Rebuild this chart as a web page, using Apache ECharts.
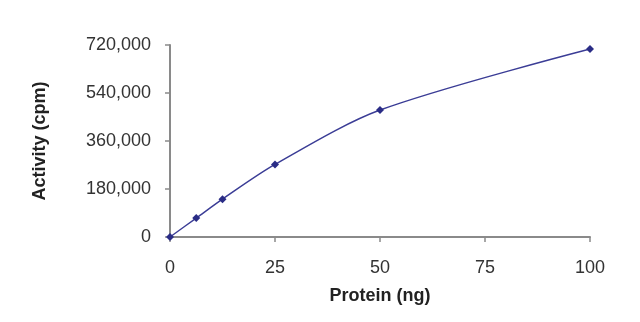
<!DOCTYPE html>
<html>
<head>
<meta charset="utf-8">
<script src="https://cdn.jsdelivr.net/npm/echarts@6/dist/echarts.min.js"></script>
<style>
  html, body { margin: 0; padding: 0; background: #fff; }
  #chart { width: 640px; height: 322px; }
</style>
</head>
<body>
<div id="chart"></div>
<script>
// Protein amount (ng) and measured activity (cpm)
const proteinNg = [0, 6.25, 12.5, 25, 50, 100];
const activityCpm = [0, 71000, 142000, 272000, 476000, 705000];

const xTicks = [0, 25, 50, 75, 100];
const yTicks = [0, 180000, 360000, 540000, 720000];

const points = proteinNg.map((x, i) => [x, activityCpm[i]]);

const chart = echarts.init(document.getElementById('chart'), null, { renderer: 'canvas' });
const font = 'Liberation Sans, Arial, sans-serif';
const axisColor = '#8a8a8a';
const textColor = '#333333';

chart.setOption({
  animation: false,
  grid: { left: 170, right: 50, top: 45, bottom: 85 },
  xAxis: {
    type: 'value',
    min: xTicks[0],
    max: xTicks[xTicks.length - 1],
    interval: 25,
    name: 'Protein (ng)',
    nameLocation: 'middle',
    nameGap: 50,
    nameTextStyle: { fontFamily: font, fontSize: 18, fontWeight: 'bold', color: '#222' },
    axisLine: { show: true, lineStyle: { color: axisColor, width: 2 } },
    axisTick: { show: true, length: 5, lineStyle: { color: axisColor, width: 1.5 } },
    axisLabel: { fontFamily: font, fontSize: 18, color: textColor, margin: 22 },
    splitLine: { show: false }
  },
  yAxis: {
    type: 'value',
    min: yTicks[0],
    max: yTicks[yTicks.length - 1],
    interval: 180000,
    name: 'Activity (cpm)',
    nameLocation: 'middle',
    nameGap: 121,
    nameRotate: 90,
    nameTextStyle: { fontFamily: font, fontSize: 18, fontWeight: 'bold', color: '#222' },
    axisLine: { show: true, lineStyle: { color: axisColor, width: 2 } },
    axisTick: { show: true, length: 5, lineStyle: { color: axisColor, width: 1.5 } },
    axisLabel: {
      fontFamily: font, fontSize: 18, color: textColor, margin: 19,
      formatter: v => v.toLocaleString('en-US')
    },
    splitLine: { show: false }
  },
  series: [{
    type: 'line',
    data: points,
    smooth: 0.3,
    symbol: 'diamond',
    symbolSize: 8,
    lineStyle: { color: '#3b3d96', width: 1.5 },
    itemStyle: { color: '#2a2c86' }
  }]
});
</script>
</body>
</html>
